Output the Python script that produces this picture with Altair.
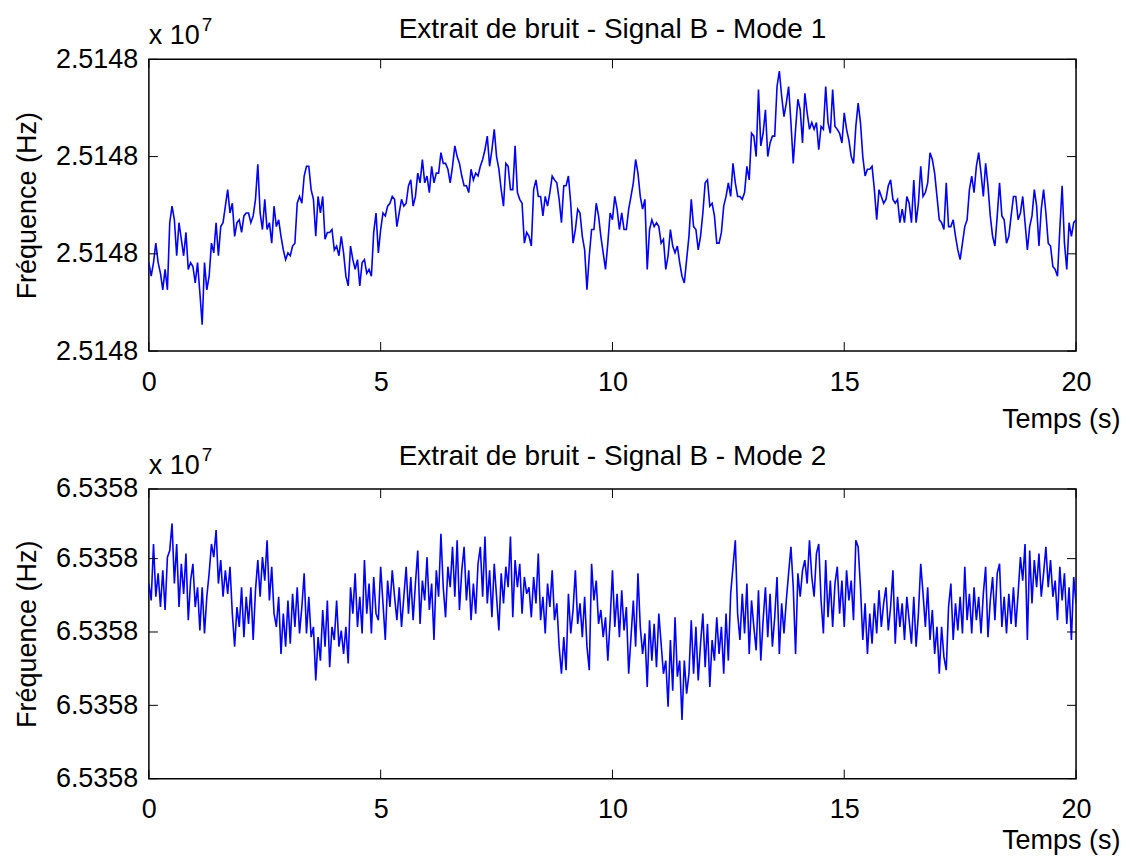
import altair as alt
import pandas as pd

# ---------------- data ----------------
title_top = "Extrait de bruit - Signal B - Mode 1"
title_bottom = "Extrait de bruit - Signal B - Mode 2"
x_title = "Temps (s)"
y_title = "Fréquence (Hz)"
x_ticks = [0, 5, 10, 15, 20]
top_ticks = [0, 1, 2, 3]
bottom_ticks = [0, 1, 2, 3, 3.95]
top_label = "2.5148"
bottom_label = "6.5358"
scale_exp = "7"
sample_step = 0.05  # seconds between samples

# frequency offsets in tick units (Mode 1)
top_vals = [
    0.91, 0.77, 0.91, 1.11, 0.91, 0.80, 0.63, 0.84, 0.63, 1.32,
    1.49, 1.35, 0.98, 1.32, 1.15, 0.98, 1.22, 0.84, 0.91, 0.87,
    0.70, 0.91, 0.60, 0.27, 0.91, 0.63, 0.77, 1.11, 1.01, 1.32,
    0.98, 1.28, 1.32, 1.49, 1.66, 1.42, 1.52, 1.18, 1.32, 1.35,
    1.22, 1.39, 1.42, 1.42, 1.32, 1.39, 1.56, 1.92, 1.42, 1.25,
    1.56, 1.25, 1.32, 1.11, 1.49, 1.28, 1.35, 1.18, 1.04, 0.94,
    1.01, 0.98, 1.08, 1.11, 1.52, 1.59, 1.52, 1.80, 1.90, 1.90,
    1.66, 1.56, 1.18, 1.59, 1.42, 1.59, 1.15, 1.22, 1.22, 1.25,
    1.04, 1.08, 0.98,
    1.18, 1.01, 0.77, 0.67, 1.08, 0.94, 0.84,
    0.94, 0.67, 0.91, 0.94, 0.80, 0.84, 0.77, 1.22, 1.42, 1.01,
    1.25, 1.42, 1.39, 1.49, 1.52, 1.59, 1.56, 1.28, 1.42, 1.56,
    1.49, 1.52, 1.70, 1.76, 1.49, 1.59, 1.83, 1.73, 1.97, 1.73,
    1.80, 1.63, 1.90, 1.73, 1.83, 1.83, 2.04, 1.93, 1.93, 1.87,
    1.73, 1.90, 2.11, 2.00, 1.93, 1.80, 1.70, 1.70, 1.63, 1.87,
    1.76, 1.83, 1.80, 1.90, 1.97, 2.07, 2.21, 1.90, 2.07, 2.28,
    2.00, 1.87, 1.66, 1.49, 1.93, 1.90, 1.66, 1.66, 2.11, 1.63,
    1.56, 1.52, 1.11, 1.22,
    1.18, 1.08, 1.66, 1.76, 1.59, 1.59,
    1.39, 1.59, 1.49, 1.63, 1.80, 1.76, 1.73, 1.56, 1.32, 1.70,
    1.70, 1.80, 1.52, 1.11, 1.25, 1.46, 1.42, 1.18, 1.04, 0.63,
    0.98, 1.25, 1.25, 1.52, 1.39, 1.18, 1.01, 0.84, 1.11, 1.42,
    1.35, 1.59, 1.46, 1.25, 1.42, 1.25, 1.25, 1.46, 1.59, 1.73,
    1.97, 1.83, 1.59, 1.46, 1.56, 0.84, 1.25, 1.35, 1.28, 1.32,
    1.28, 1.11, 1.15, 0.84, 0.98, 1.25, 1.08, 1.01, 1.08, 0.91,
    0.77, 0.70, 0.94, 1.18, 1.56, 1.28, 1.25, 1.04, 1.18, 1.42,
    1.73, 1.76, 1.49, 1.52, 1.39, 1.11,
    1.11, 1.22, 1.49, 1.59,
    1.73, 1.59, 1.93, 1.73, 1.59, 1.59, 1.56, 1.63, 1.90, 1.76,
    2.24, 2.21, 2.00, 2.69, 2.11, 2.24, 2.48, 2.00, 2.14, 2.21,
    2.21, 2.72, 2.88, 2.62, 2.41, 2.55, 2.72, 2.35, 1.93, 2.28,
    2.59, 2.48, 2.14, 2.65, 2.45, 2.28, 2.35, 2.28, 2.35, 2.07,
    2.31, 2.28, 2.72, 2.35, 2.24, 2.69, 2.31, 2.28, 2.24, 2.14,
    2.45, 2.28, 2.17, 2.00, 1.93, 2.31, 2.55, 2.35, 2.00, 1.80,
    1.87, 1.87, 1.90, 1.66, 1.35, 1.66, 1.59, 1.52, 1.56, 1.70,
    1.76, 1.56, 1.52, 1.56, 1.32, 1.46, 1.32, 1.59,
    1.52, 1.32,
    1.76, 1.32, 1.52, 1.90, 1.59, 1.63, 1.73, 2.04, 1.97, 1.83,
    1.59, 1.35, 1.32, 1.25, 1.73, 1.28, 1.28, 1.35, 1.18, 1.04,
    0.94, 1.11, 1.28, 1.35, 1.66, 1.80, 1.63, 1.90, 2.04, 1.83,
    1.59, 1.93, 1.70, 1.39, 1.18, 1.08, 1.39, 1.73, 1.39, 1.35,
    1.11, 1.18, 1.39, 1.59, 1.59, 1.35, 1.42, 1.59, 1.32, 1.04,
    1.28, 1.39, 1.66, 1.49, 1.08, 1.46, 1.66, 1.42, 1.11, 1.08,
    0.87, 0.84, 0.77, 1.25, 1.70, 1.11, 0.84, 1.32, 1.18, 1.32,
    1.35,
]

# frequency offsets in tick units (Mode 2)
bottom_vals = [
    2.66, 2.43, 3.20, 2.48, 2.80, 2.34, 2.84, 2.30, 3.02, 3.11,
    3.48, 2.66, 3.20, 2.34, 2.93, 2.52, 3.07, 2.16, 2.70, 2.93,
    2.34, 2.61, 2.02, 2.61, 1.98, 2.48, 2.80, 3.20, 3.02, 3.39,
    2.66, 2.98, 2.48, 2.84, 2.52, 2.89, 2.25, 1.80, 2.34, 2.07,
    2.61, 1.93, 2.48, 2.11, 2.61, 1.89, 2.57, 2.98, 2.48, 3.02,
    2.70, 3.25, 2.43, 2.89, 2.25, 2.07, 2.48, 1.70, 2.25, 1.80,
    2.43, 1.84, 2.52, 2.07, 2.61, 1.98, 2.34, 2.80, 1.98, 2.48,
    1.93, 2.07, 1.34, 1.93, 1.61, 2.30, 1.80, 2.43, 1.52, 2.07,
    1.89, 2.43, 1.80,
    2.02, 1.70, 2.07, 1.57, 2.61, 2.25, 2.80,
    2.07, 2.48, 1.98, 2.98, 2.25, 2.66, 1.98, 2.75, 2.25, 2.16,
    2.89, 2.39, 1.89, 2.70, 2.34, 2.84, 2.48, 2.16, 2.61, 2.07,
    2.48, 2.89, 2.25, 2.75, 2.16, 2.66, 3.11, 2.11, 2.70, 2.43,
    3.02, 2.30, 2.66, 1.89, 2.84, 2.48, 3.34, 2.61, 2.20, 2.89,
    2.61, 3.16, 2.48, 3.25, 2.30, 2.84, 3.16, 2.43, 2.84, 2.16,
    2.66, 2.25, 2.93, 3.16, 2.48, 3.30, 2.39, 2.84, 2.20, 2.93,
    2.48, 2.02, 2.80, 2.39, 2.89, 2.61, 3.30, 2.20, 2.98, 2.61,
    2.93, 2.25, 2.75, 2.52,
    2.61, 2.20, 2.75, 2.39, 3.07, 2.16,
    2.48, 1.98, 2.66, 2.34, 2.84, 2.16, 2.39, 1.80, 1.43, 1.93,
    1.48, 2.52, 1.98, 2.30, 2.84, 2.11, 2.39, 1.93, 2.48, 1.80,
    1.48, 2.93, 2.43, 2.70, 2.11, 2.30, 1.93, 2.20, 1.61, 2.16,
    2.84, 2.07, 2.52, 1.93, 2.57, 2.02, 2.34, 1.43, 1.93, 2.43,
    1.80, 2.80, 2.07, 1.70, 1.98, 1.25, 2.16, 1.61, 2.11, 1.52,
    2.25, 1.84, 1.43, 1.61, 0.98, 1.89, 1.20, 2.20, 1.39, 1.61,
    0.80, 1.61, 1.16, 1.43, 2.16, 1.43, 2.07, 1.34, 1.84, 2.25,
    1.52, 2.11, 1.25, 1.89, 1.61, 2.20,
    1.70, 2.07, 1.43, 2.25,
    1.61, 2.52, 2.89, 3.25, 2.25, 1.89, 2.52, 1.98, 2.66, 1.70,
    2.43, 2.07, 1.75, 2.57, 1.61, 2.16, 2.61, 1.93, 2.52, 1.80,
    2.20, 2.75, 1.70, 2.39, 1.98, 2.43, 2.80, 3.16, 2.61, 1.70,
    2.80, 2.48, 2.84, 2.98, 2.66, 3.25, 2.75, 2.48, 3.07, 3.20,
    2.43, 1.98, 2.98, 2.20, 2.70, 2.07, 2.66, 2.89, 2.25, 2.70,
    2.07, 2.84, 2.43, 2.70, 2.16, 3.25, 3.16, 2.61, 1.89, 2.39,
    1.70, 2.25, 1.84, 2.39, 1.98, 2.57, 2.07, 2.39, 2.61, 2.02,
    2.34, 2.84, 1.84, 2.48, 2.07, 2.39, 1.89, 2.48,
    2.16, 1.84,
    2.48, 1.80, 2.25, 2.93, 2.52, 2.07, 2.61, 1.89, 2.30, 1.70,
    2.07, 1.43, 2.07, 1.66, 1.48, 2.34, 2.66, 1.89, 2.39, 2.02,
    2.48, 1.98, 2.89, 2.16, 2.52, 1.98, 2.61, 2.16, 2.48, 1.98,
    2.52, 2.89, 1.93, 2.43, 2.75, 2.16, 2.80, 2.93, 2.07, 2.48,
    1.98, 2.52, 2.11, 2.61, 2.07, 2.52, 3.02, 2.70, 3.20, 1.89,
    3.11, 2.39, 2.98, 2.61, 3.07, 2.48, 2.80, 3.16, 2.61, 2.98,
    2.48, 2.70, 2.16, 2.89, 2.43, 2.80, 2.11, 2.61, 1.89, 2.75,
    2.39,
]

# ---------------- styling ----------------
FONT = "Liberation Sans"
FS = 27
TFS = 28
W = 928
TICK = 9


def panel(vals, yticks, ylabel, title, H, ydomain, xtitle_y, title_y):
    df = pd.DataFrame({"t": [i * sample_step for i in range(len(vals))], "f": vals})
    xs = alt.Scale(domain=[0, 20], nice=False, zero=False)
    ys = alt.Scale(domain=ydomain, nice=False, zero=False)
    xaxis = alt.Axis(
        values=x_ticks, format="d", title=x_title, grid=False, domain=False,
        ticks=False, tickSize=0, labelPadding=18, labelFontSize=FS, labelFont=FONT,
        labelColor="black", titleFontSize=FS, titleFont=FONT, titleFontWeight="normal",
        titleColor="black", titleX=W + 44, titleY=xtitle_y, titleAlign="right",
        titleBaseline="middle", labelFlush=False)
    yaxis = alt.Axis(
        values=yticks, labelExpr=f"'{ylabel}'", title=y_title, grid=False, domain=False,
        ticks=False, tickSize=0, labelPadding=11, labelFontSize=FS, labelFont=FONT,
        labelColor="black", titleFontSize=FS, titleFont=FONT, titleFontWeight="normal",
        titleColor="black", titleX=-121, titleY=H / 2, titleAngle=270,
        titleAlign="center", titleBaseline="middle", labelFlush=False)

    line = alt.Chart(df).mark_line(color="#0000FF", strokeWidth=1.6, clip=True).encode(
        x=alt.X("t:Q", scale=xs, axis=xaxis),
        y=alt.Y("f:Q", scale=ys, axis=yaxis),
    )

    xt = pd.DataFrame({"t": x_ticks})
    yt = pd.DataFrame({"f": yticks})
    rule = dict(color="black", strokeWidth=1)
    tx_bottom = alt.Chart(xt).mark_rule(**rule).encode(
        x=alt.X("t:Q", scale=xs, axis=xaxis), y=alt.value(H), y2=alt.value(H - TICK))
    tx_top = alt.Chart(xt).mark_rule(**rule).encode(
        x=alt.X("t:Q", scale=xs, axis=xaxis), y=alt.value(0), y2=alt.value(TICK))
    ty_left = alt.Chart(yt).mark_rule(**rule).encode(
        y=alt.Y("f:Q", scale=ys, axis=yaxis), x=alt.value(0), x2=alt.value(TICK))
    ty_right = alt.Chart(yt).mark_rule(**rule).encode(
        y=alt.Y("f:Q", scale=ys, axis=yaxis), x=alt.value(W - TICK), x2=alt.value(W))

    ttl = alt.Chart(pd.DataFrame({"s": [title]})).mark_text(
        align="center", baseline="alphabetic", fontSize=TFS, font=FONT, color="black").encode(
        x=alt.value(W / 2), y=alt.value(title_y), text="s:N")
    mult = alt.Chart(pd.DataFrame({"s": ["x 10"]})).mark_text(
        align="left", baseline="alphabetic", fontSize=FS, font=FONT, color="black").encode(
        x=alt.value(0), y=alt.value(-15), text="s:N")
    expo = alt.Chart(pd.DataFrame({"s": [scale_exp]})).mark_text(
        align="left", baseline="alphabetic", fontSize=19, font=FONT, color="black").encode(
        x=alt.value(53), y=alt.value(-28), text="s:N")

    return alt.layer(line, tx_bottom, tx_top, ty_left, ty_right, ttl, mult, expo).properties(
        width=W, height=H)


top = panel(top_vals, top_ticks, top_label, title_top, 292, [0, 3], 68, -21)
bottom = panel(bottom_vals, bottom_ticks, bottom_label, title_bottom, 290, [0, 3.95], 62, -24)

chart = alt.vconcat(top, bottom, spacing=9).properties(
    padding={"left": 5, "top": 7, "right": 0, "bottom": 0},
    background="white",
).configure_view(stroke="black", strokeWidth=1.5)

chart.save("out.html", embed_options={"renderer": "svg", "actions": False})
